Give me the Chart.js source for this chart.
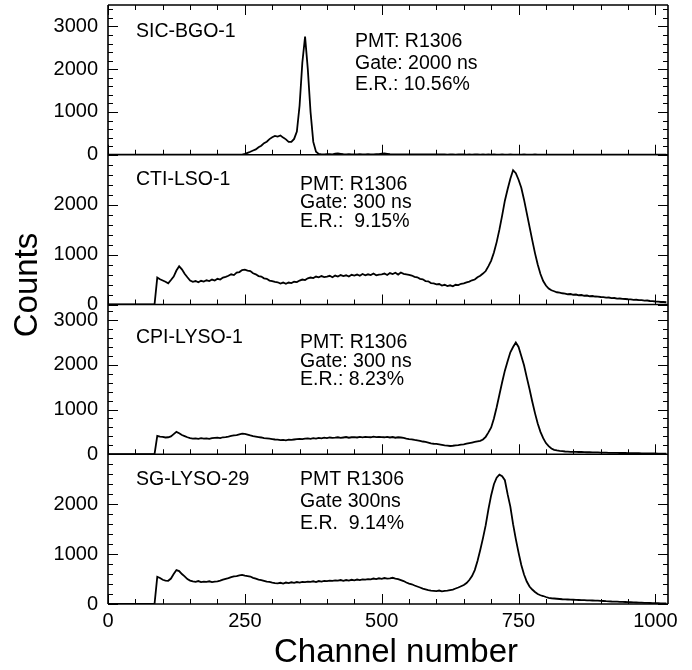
<!DOCTYPE html>
<html>
<head>
<meta charset="utf-8">
<script src="https://cdn.jsdelivr.net/npm/chart.js@4.4.1/dist/chart.umd.min.js"></script>
<style>
  html, body { margin: 0; padding: 0; background: #fff; }
  #wrap { width: 692px; height: 670px; }
</style>
</head>
<body>
<div id="wrap"><canvas id="spectra" width="692" height="670"></canvas></div>
<script>
// pulse height spectra, one count per 5 ADC channels (0 .. 1020)
const CH_STEP = 5;

const sicBgo1 = [
  0, 0, 0, 0, 0, 0, 0, 0, 0, 0,
  0, 0, 0, 0, 0, 0, 0, 0, 0, 0,
  0, 0, 0, 0, 0, 0, 0, 0, 0, 0,
  0, 0, 0, 0, 0, 0, 0, 0, 0, 0,
  0, 0, 0, 0, 0, 0, 0, 0, 0, 5,
  20, 45, 70, 100, 125, 175, 210, 270, 305, 365,
  410, 440, 425, 450, 400, 360, 300, 300, 370, 540,
  1150, 2150, 2760, 2000, 1000, 300, 70, 20, 10, 8,
  12, 15, 10, 25, 30, 22, 15, 10, 12, 8,
  10, 8, 12, 10, 8, 12, 10, 8, 12, 15,
  28, 30, 22, 12, 10, 8, 10, 8, 10, 8,
  8, 10, 8, 6, 8, 10, 8, 6, 8, 6,
  8, 6, 8, 6, 5, 8, 6, 5, 6, 8,
  6, 5, 6, 5, 8, 6, 5, 6, 5, 6,
  5, 6, 5, 5, 6, 5, 5, 6, 5, 5,
  5, 5, 6, 5, 5, 5, 6, 5, 5, 5,
  5, 5, 5, 5, 5, 5, 5, 5, 5, 5,
  5, 5, 5, 5, 5, 5, 5, 5, 5, 5,
  5, 5, 5, 5, 5, 5, 5, 5, 5, 5,
  5, 5, 5, 5, 5, 5, 5, 5, 5, 5,
  5, 5, 5, 5, 5
];

const ctiLso1 = [
  0, 0, 0, 0, 0, 0, 0, 0, 0, 0,
  0, 0, 0, 0, 0, 0, 0, 0, 540, 505,
  480, 455, 425, 490, 560, 680, 765, 705, 615, 545,
  480, 455, 470, 445, 475, 460, 485, 470, 500, 480,
  515, 500, 540, 555, 575, 605, 590, 640, 650, 690,
  700, 680, 670, 625, 605, 570, 560, 525, 515, 480,
  470, 455, 445, 420, 440, 415, 440, 430, 455, 450,
  480, 500, 490, 525, 540, 530, 560, 545, 570, 550,
  560, 575, 545, 580, 560, 590, 570, 585, 560, 595,
  580, 600, 575, 610, 585, 605, 590, 620, 585, 600,
  605, 620, 590, 630, 610, 635, 600, 640, 615, 605,
  595, 580, 555, 545, 515, 505, 470, 465, 430, 425,
  405, 410, 380, 395, 370, 385, 365, 395, 390, 415,
  425, 445, 460, 485, 500, 545, 575, 620, 670, 770,
  880, 1040, 1250, 1500, 1780, 2080, 2310, 2520, 2690, 2630,
  2500, 2340, 2100, 1830, 1560, 1290, 1030, 800, 610, 470,
  380, 320, 285, 265, 245, 240, 225, 220, 205, 210,
  195, 200, 185, 190, 175, 180, 165, 170, 160, 158,
  150, 148, 138, 140, 128, 130, 118, 120, 112, 110,
  105, 102, 92, 95, 88, 86, 78, 80, 70, 68,
  60, 58, 50, 50, 45
];

const cpiLyso1 = [
  0, 0, 0, 0, 0, 0, 0, 0, 0, 0,
  0, 0, 0, 0, 0, 0, 0, 0, 410, 395,
  390, 375, 380, 400, 450, 500, 470, 430, 405, 380,
  360, 350, 355, 345, 360, 350, 355, 345, 360, 365,
  370, 360, 380, 385, 395, 410, 420, 430, 445, 460,
  455, 440, 420, 405, 395, 385, 375, 360, 355, 350,
  340, 330, 325, 315, 320, 310, 325, 320, 330, 340,
  345, 340, 350, 355, 345, 360, 350, 365, 355, 370,
  360, 375, 365, 370, 380, 365, 375, 385, 370, 380,
  385, 375, 390, 380, 390, 385, 380, 395, 385, 390,
  385, 380, 390, 375, 385, 370, 380, 375, 365, 350,
  340, 335, 320, 310, 300, 285, 275, 260, 245, 235,
  230, 220, 210, 200, 195, 185, 190, 200, 205, 215,
  220, 238, 250, 262, 275, 288, 300, 330, 390, 490,
  600, 800, 1050, 1330, 1610, 1870, 2080, 2280, 2400, 2500,
  2400, 2200, 1990, 1720, 1460, 1180, 920, 690, 500, 360,
  250, 180, 130, 100, 85, 75, 68, 62, 58, 55,
  55, 52, 50, 52, 48, 45, 46, 42, 40, 42,
  38, 36, 35, 33, 32, 30, 32, 28, 30, 28,
  26, 25, 24, 22, 22, 20, 21, 18, 20, 18,
  17, 16, 15, 15, 14
];

const sgLyso29 = [
  0, 0, 0, 0, 0, 0, 0, 0, 0, 0,
  0, 0, 0, 0, 0, 0, 0, 0, 545, 520,
  485, 470, 465, 510, 600, 680, 660, 600, 555, 500,
  470, 455, 445, 460, 440, 450, 445, 455, 440, 450,
  455, 470, 490, 505, 520, 540, 555, 560, 575, 585,
  570, 560, 550, 525, 510, 490, 480, 465, 450, 445,
  430, 420, 415, 425, 410, 430, 420, 435, 425, 440,
  430, 445, 440, 450, 445, 455, 440, 460, 450, 465,
  460, 470, 465, 475, 470, 480, 465, 480, 470, 485,
  475, 490, 480, 495, 490, 500, 495, 510, 500, 515,
  505, 520, 510, 515, 525, 510, 500, 480, 460, 430,
  410, 395, 370, 350, 330, 310, 295, 280, 270, 265,
  260, 270, 255, 265, 270, 280, 290, 310, 330, 355,
  380, 420, 480, 560, 680, 860, 1080, 1320, 1580, 1900,
  2180, 2400, 2530, 2590, 2560, 2480, 2200, 1950, 1600, 1300,
  1030, 780, 590, 450, 350, 290, 240, 200, 175, 160,
  140, 125, 115, 110, 105, 100, 95, 92, 90, 88,
  85, 82, 80, 78, 76, 74, 72, 70, 68, 66,
  62, 60, 56, 54, 50, 48, 46, 44, 42, 40,
  38, 35, 33, 30, 28, 26, 24, 22, 20, 18,
  16, 15, 14, 13, 13
];

// panels top to bottom
const spectra = [sicBgo1, ctiLso1, cpiLyso1, sgLyso29];
const crystalNames = ["SIC-BGO-1", "CTI-LSO-1", "CPI-LYSO-1", "SG-LYSO-29"];
const runNotes = [
  ["PMT: R1306", "Gate: 2000 ns", "E.R.: 10.56%"],
  ["PMT: R1306", "Gate: 300 ns", "E.R.:  9.15%"],
  ["PMT: R1306", "Gate: 300 ns", "E.R.: 8.23%"],
  ["PMT R1306", "Gate 300ns", "E.R.  9.14%"]
];
const yMax = [3500, 3000, 3350, 3000];
const yTickLabels = [
  [0, 1000, 2000, 3000],
  [0, 1000, 2000],
  [0, 1000, 2000, 3000],
  [0, 1000, 2000]
];
const xTickLabels = [0, 250, 500, 750, 1000];
const X_MAX = 1023;

const channels = spectra[0].map((_, i) => i * CH_STEP);

const FONT = "'Liberation Sans', Arial, Helvetica, sans-serif";

// where the annotations sit inside each panel (offsets from panel top-left)
const nameOffset = [[28, 32], [28, 30], [28, 38.5], [28, 31]];
const noteOffset = [[247, 42, 21.5], [192, 35, 18.5], [192, 43.5, 18.5], [192, 31, 22]];

// keep tick labels from pushing the plot area around
const noLabelPadding = (scale) => {
  scale.paddingTop = 0;
  scale.paddingBottom = 0;
  scale.paddingLeft = 0;
  scale.paddingRight = 0;
};

const yScales = {};
spectra.forEach((_, i) => {
  yScales["y" + i] = {
    type: "linear",
    position: "left",
    stack: "panels",
    stackWeight: 1,
    weight: 10 - i,
    min: 0,
    max: yMax[i],
    grid: { display: false, drawTicks: false },
    border: { display: false },
    afterBuildTicks: (scale) => { scale.ticks = yTickLabels[i].map((v) => ({ value: v })); },
    afterFit: (scale) => { scale.width = 108; noLabelPadding(scale); },
    ticks: {
      autoSkip: false,
      padding: 10,
      color: "#000",
      font: { family: FONT, size: 20 },
      callback: (v) => String(v)
    }
  };
});

const panelFrame = {
  id: "panelFrame",
  afterDraw(chart) {
    const { ctx, chartArea } = chart;
    const xs = chart.scales.x;
    const left = chartArea.left, right = chartArea.right;
    ctx.save();
    ctx.strokeStyle = "#000";

    spectra.forEach((_, i) => {
      const ys = chart.scales["y" + i];
      ctx.lineWidth = 1;
      ctx.beginPath();
      // inward ticks on both side axes, minor every 200 counts
      for (let v = 0; v <= ys.max; v += 200) {
        const py = Math.round(ys.getPixelForValue(v)) + 0.5;
        const len = v % 1000 === 0 ? 10 : 5;
        ctx.moveTo(left, py); ctx.lineTo(left + len, py);
        ctx.moveTo(right, py); ctx.lineTo(right - len, py);
      }
      // channel ticks on the panel floor (and on the very top edge)
      for (let c = 0; c <= X_MAX; c += 50) {
        const px = Math.round(xs.getPixelForValue(c)) + 0.5;
        const len = c % 250 === 0 ? 10 : 5;
        ctx.moveTo(px, ys.bottom); ctx.lineTo(px, ys.bottom - len);
        if (i === 0) { ctx.moveTo(px, ys.top); ctx.lineTo(px, ys.top + len); }
      }
      ctx.stroke();

      ctx.lineWidth = 1.6;
      ctx.beginPath();
      ctx.moveTo(left, ys.bottom); ctx.lineTo(right, ys.bottom);
      if (i === 0) { ctx.moveTo(left, ys.top); ctx.lineTo(right, ys.top); }
      ctx.stroke();

      // crystal id and run settings
      ctx.fillStyle = "#000";
      ctx.font = "19.5px " + FONT;
      ctx.textAlign = "left";
      ctx.textBaseline = "alphabetic";
      ctx.fillText(crystalNames[i], left + nameOffset[i][0], ys.top + nameOffset[i][1]);
      const [dx, dy, lh] = noteOffset[i];
      runNotes[i].forEach((t, k) => ctx.fillText(t, left + dx, ys.top + dy + k * lh));
    });

    ctx.lineWidth = 1.6;
    ctx.beginPath();
    ctx.moveTo(left, chartArea.top); ctx.lineTo(left, chartArea.bottom);
    ctx.moveTo(right, chartArea.top); ctx.lineTo(right, chartArea.bottom);
    ctx.stroke();

    // axis titles
    ctx.font = "33px " + FONT;
    ctx.textAlign = "center";
    ctx.fillText("Channel number", 396, 662);
    ctx.translate(37, 285);
    ctx.rotate(-Math.PI / 2);
    ctx.fillText("Counts", 0, 0);
    ctx.restore();
  }
};

new Chart(document.getElementById("spectra"), {
  type: "line",
  data: {
    labels: channels,
    datasets: spectra.map((counts, i) => ({
      label: crystalNames[i],
      data: counts,
      yAxisID: "y" + i,
      borderColor: "#000",
      borderWidth: 1.8,
      pointRadius: 0,
      tension: 0,
      fill: false
    }))
  },
  options: {
    responsive: false,
    animation: false,
    devicePixelRatio: 1,
    layout: { padding: { top: 5, right: 24, left: 0, bottom: 0 } },
    plugins: { legend: { display: false }, tooltip: { enabled: false } },
    scales: Object.assign({
      x: {
        type: "linear",
        min: 0,
        max: X_MAX,
        grid: { display: false, drawTicks: false },
        border: { display: false },
        afterBuildTicks: (scale) => { scale.ticks = xTickLabels.map((v) => ({ value: v })); },
        afterFit: (scale) => { scale.height = 66; noLabelPadding(scale); },
        ticks: {
          autoSkip: false,
          maxRotation: 0,
          padding: 5,
          color: "#000",
          font: { family: FONT, size: 20 },
          callback: (v) => String(v)
        }
      }
    }, yScales)
  },
  plugins: [panelFrame]
});
</script>
</body>
</html>
